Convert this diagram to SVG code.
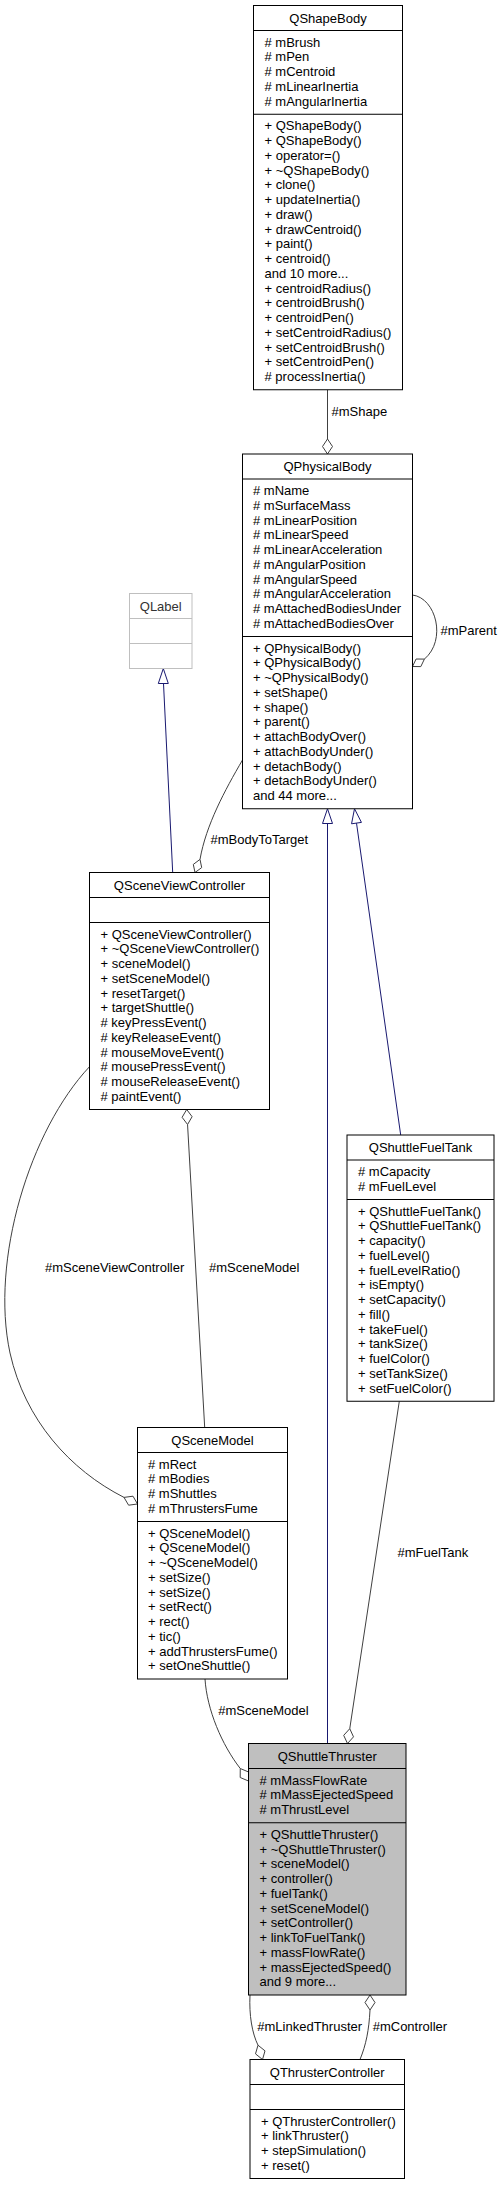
<svg xmlns="http://www.w3.org/2000/svg" width="504" height="2185" viewBox="0 0 504 2185">
<style>
.bx{fill:#fff;stroke:#000;stroke-width:1}
.gx{fill:#bfbfbf;stroke:#000;stroke-width:1}
.lx{fill:#fff;stroke:#bfbfbf;stroke-width:1}
.sp{stroke:#000;stroke-width:1}
.lsp{stroke:#bfbfbf;stroke-width:1}
.t{font-family:"Liberation Sans",Arial,Helvetica,sans-serif;font-size:13px;fill:#000}
.c{text-anchor:middle}
.e{fill:none;stroke:#404040;stroke-width:1}
.i{fill:none;stroke:#191970;stroke-width:1}
.d{fill:#fff;stroke:#404040;stroke-width:1}
.h{fill:#fff;stroke:#191970;stroke-width:1}
</style>
<rect width="504" height="2185" fill="#fff"/>

<g id="connectors">
  <!-- mShape -->
  <line class="e" x1="327.5" y1="389.75" x2="327.5" y2="439"/>
  <polygon class="d" points="327.5,454 322.5,446.5 327.5,439 332.5,446.5"/>
  <text class="t" x="331.5" y="415.5">#mShape</text>
  <!-- mParent self loop -->
  <path class="e" d="M412.5,595 C436,598 447,640 424.4,659.1"/>
  <polygon class="d" points="412.5,666.5 420.8,666.6 424.4,659.1 416.1,659"/>
  <text class="t" x="440.5" y="635">#mParent</text>
  <!-- mBodyToTarget -->
  <path class="e" d="M242.5,760 C225,790 206,825 200,859.4"/>
  <polygon class="d" points="195,872.5 201.7,867.6 200,859.4 193.3,864.4"/>
  <text class="t" x="210.5" y="844">#mBodyToTarget</text>
  <!-- QSceneViewController -> QLabel -->
  <line class="i" x1="172.7" y1="872.5" x2="163.5" y2="683.5"/>
  <polygon class="h" points="163.3,668.5 158.3,683.5 168.3,683.5"/>
  <!-- QShuttleThruster -> QPhysicalBody -->
  <line class="i" x1="327.5" y1="823.5" x2="327.5" y2="1743.5"/>
  <polygon class="h" points="327.5,808.75 322.5,823.5 332.5,823.5"/>
  <!-- QShuttleFuelTank -> QPhysicalBody -->
  <line class="i" x1="356.5" y1="823.1" x2="400.7" y2="1135"/>
  <polygon class="h" points="354.5,808.75 351.55,823.8 361.45,822.4"/>
  <!-- mSceneModel (QSceneViewController) -->
  <line class="e" x1="187.55" y1="1124.5" x2="204.7" y2="1427.5"/>
  <polygon class="d" points="186.7,1109.5 192.1,1116.7 187.55,1124.5 182.1,1117.3"/>
  <text class="t" x="209" y="1272">#mSceneModel</text>
  <!-- mSceneViewController -->
  <path class="e" d="M89.5,1066.7 C30,1130 -10,1260 10,1353 C25,1420 70,1470 124,1497.4"/>
  <polygon class="d" points="137.5,1504 133,1496.2 124,1497.4 128.6,1505.2"/>
  <text class="t" x="45" y="1272">#mSceneViewController</text>
  <!-- mFuelTank -->
  <line class="e" x1="349.75" y1="1728.7" x2="399.3" y2="1401.25"/>
  <polygon class="d" points="347.5,1743.5 353.5,1736.85 349.75,1728.7 343.7,1735.35"/>
  <text class="t" x="397.5" y="1557">#mFuelTank</text>
  <!-- mSceneModel (QShuttleThruster) -->
  <path class="e" d="M205,1679 C207,1710 222,1745 240.25,1768.5"/>
  <polygon class="d" points="248.5,1781 248.6,1772 240.25,1768.5 240.2,1777.5"/>
  <text class="t" x="218.3" y="1715">#mSceneModel</text>
  <!-- mLinkedThruster -->
  <path class="e" d="M250,1995 C249,2015 252,2033 258,2045.2"/>
  <polygon class="d" points="262.5,2059.5 265,2050.85 258,2045.2 255.5,2053.85"/>
  <text class="t" x="257.3" y="2031">#mLinkedThruster</text>
  <!-- mController -->
  <path class="e" d="M370,2010 C369,2030 366,2045 360,2059.5"/>
  <polygon class="d" points="370,1995 375,2002.5 370,2010 365,2002.5"/>
  <text class="t" x="372.7" y="2031">#mController</text>
</g>

<g id="QShapeBody">
  <rect class="bx" x="253.5" y="5.5" width="149" height="384.25"/>
  <line class="sp" x1="253.5" y1="30.5" x2="402.5" y2="30.5"/>
  <line class="sp" x1="253.5" y1="114.25" x2="402.5" y2="114.25"/>
  <text class="t c" x="328" y="22.5">QShapeBody</text>
  <text class="t" x="264.5" y="46.5"><tspan x="264.5"># mBrush</tspan><tspan x="264.5" dy="14.75"># mPen</tspan><tspan x="264.5" dy="14.75"># mCentroid</tspan><tspan x="264.5" dy="14.75"># mLinearInertia</tspan><tspan x="264.5" dy="14.75"># mAngularInertia</tspan></text>
  <text class="t" x="264.5" y="130.25"><tspan x="264.5">+ QShapeBody()</tspan><tspan x="264.5" dy="14.75">+ QShapeBody()</tspan><tspan x="264.5" dy="14.75">+ operator=()</tspan><tspan x="264.5" dy="14.75">+ ~QShapeBody()</tspan><tspan x="264.5" dy="14.75">+ clone()</tspan><tspan x="264.5" dy="14.75">+ updateInertia()</tspan><tspan x="264.5" dy="14.75">+ draw()</tspan><tspan x="264.5" dy="14.75">+ drawCentroid()</tspan><tspan x="264.5" dy="14.75">+ paint()</tspan><tspan x="264.5" dy="14.75">+ centroid()</tspan><tspan x="264.5" dy="14.75">and 10 more...</tspan><tspan x="264.5" dy="14.75">+ centroidRadius()</tspan><tspan x="264.5" dy="14.75">+ centroidBrush()</tspan><tspan x="264.5" dy="14.75">+ centroidPen()</tspan><tspan x="264.5" dy="14.75">+ setCentroidRadius()</tspan><tspan x="264.5" dy="14.75">+ setCentroidBrush()</tspan><tspan x="264.5" dy="14.75">+ setCentroidPen()</tspan><tspan x="264.5" dy="14.75"># processInertia()</tspan></text>
</g>

<g id="QPhysicalBody">
  <rect class="bx" x="242.5" y="454" width="170" height="354.75"/>
  <line class="sp" x1="242.5" y1="479" x2="412.5" y2="479"/>
  <line class="sp" x1="242.5" y1="636.5" x2="412.5" y2="636.5"/>
  <text class="t c" x="327.5" y="471">QPhysicalBody</text>
  <text class="t" x="253" y="495"><tspan x="253"># mName</tspan><tspan x="253" dy="14.75"># mSurfaceMass</tspan><tspan x="253" dy="14.75"># mLinearPosition</tspan><tspan x="253" dy="14.75"># mLinearSpeed</tspan><tspan x="253" dy="14.75"># mLinearAcceleration</tspan><tspan x="253" dy="14.75"># mAngularPosition</tspan><tspan x="253" dy="14.75"># mAngularSpeed</tspan><tspan x="253" dy="14.75"># mAngularAcceleration</tspan><tspan x="253" dy="14.75"># mAttachedBodiesUnder</tspan><tspan x="253" dy="14.75"># mAttachedBodiesOver</tspan></text>
  <text class="t" x="253" y="652.5"><tspan x="253">+ QPhysicalBody()</tspan><tspan x="253" dy="14.75">+ QPhysicalBody()</tspan><tspan x="253" dy="14.75">+ ~QPhysicalBody()</tspan><tspan x="253" dy="14.75">+ setShape()</tspan><tspan x="253" dy="14.75">+ shape()</tspan><tspan x="253" dy="14.75">+ parent()</tspan><tspan x="253" dy="14.75">+ attachBodyOver()</tspan><tspan x="253" dy="14.75">+ attachBodyUnder()</tspan><tspan x="253" dy="14.75">+ detachBody()</tspan><tspan x="253" dy="14.75">+ detachBodyUnder()</tspan><tspan x="253" dy="14.75">and 44 more...</tspan></text>
</g>

<g id="QLabel">
  <rect class="lx" x="129.5" y="593.5" width="62.5" height="75"/>
  <line class="lsp" x1="129.5" y1="618.5" x2="192" y2="618.5"/>
  <line class="lsp" x1="129.5" y1="643.5" x2="192" y2="643.5"/>
  <text class="t c" x="160.75" y="610.5" style="fill:#333">QLabel</text>
</g>

<g id="QSceneViewController">
  <rect class="bx" x="89.5" y="872.5" width="180" height="237"/>
  <line class="sp" x1="89.5" y1="897.5" x2="269.5" y2="897.5"/>
  <line class="sp" x1="89.5" y1="922.5" x2="269.5" y2="922.5"/>
  <text class="t c" x="179.5" y="889.5">QSceneViewController</text>
  <text class="t" x="100.5" y="938.5"><tspan x="100.5">+ QSceneViewController()</tspan><tspan x="100.5" dy="14.75">+ ~QSceneViewController()</tspan><tspan x="100.5" dy="14.75">+ sceneModel()</tspan><tspan x="100.5" dy="14.75">+ setSceneModel()</tspan><tspan x="100.5" dy="14.75">+ resetTarget()</tspan><tspan x="100.5" dy="14.75">+ targetShuttle()</tspan><tspan x="100.5" dy="14.75"># keyPressEvent()</tspan><tspan x="100.5" dy="14.75"># keyReleaseEvent()</tspan><tspan x="100.5" dy="14.75"># mouseMoveEvent()</tspan><tspan x="100.5" dy="14.75"># mousePressEvent()</tspan><tspan x="100.5" dy="14.75"># mouseReleaseEvent()</tspan><tspan x="100.5" dy="14.75"># paintEvent()</tspan></text>
</g>

<g id="QShuttleFuelTank">
  <rect class="bx" x="347" y="1135" width="147" height="266.25"/>
  <line class="sp" x1="347" y1="1160" x2="494" y2="1160"/>
  <line class="sp" x1="347" y1="1199.5" x2="494" y2="1199.5"/>
  <text class="t c" x="420.5" y="1152">QShuttleFuelTank</text>
  <text class="t" x="358" y="1176"><tspan x="358"># mCapacity</tspan><tspan x="358" dy="14.75"># mFuelLevel</tspan></text>
  <text class="t" x="358" y="1215.5"><tspan x="358">+ QShuttleFuelTank()</tspan><tspan x="358" dy="14.75">+ QShuttleFuelTank()</tspan><tspan x="358" dy="14.75">+ capacity()</tspan><tspan x="358" dy="14.75">+ fuelLevel()</tspan><tspan x="358" dy="14.75">+ fuelLevelRatio()</tspan><tspan x="358" dy="14.75">+ isEmpty()</tspan><tspan x="358" dy="14.75">+ setCapacity()</tspan><tspan x="358" dy="14.75">+ fill()</tspan><tspan x="358" dy="14.75">+ takeFuel()</tspan><tspan x="358" dy="14.75">+ tankSize()</tspan><tspan x="358" dy="14.75">+ fuelColor()</tspan><tspan x="358" dy="14.75">+ setTankSize()</tspan><tspan x="358" dy="14.75">+ setFuelColor()</tspan></text>
</g>

<g id="QSceneModel">
  <rect class="bx" x="137.5" y="1427.5" width="150" height="251.5"/>
  <line class="sp" x1="137.5" y1="1452.5" x2="287.5" y2="1452.5"/>
  <line class="sp" x1="137.5" y1="1521.5" x2="287.5" y2="1521.5"/>
  <text class="t c" x="212.5" y="1444.5">QSceneModel</text>
  <text class="t" x="148" y="1468.5"><tspan x="148"># mRect</tspan><tspan x="148" dy="14.75"># mBodies</tspan><tspan x="148" dy="14.75"># mShuttles</tspan><tspan x="148" dy="14.75"># mThrustersFume</tspan></text>
  <text class="t" x="148" y="1537.5"><tspan x="148">+ QSceneModel()</tspan><tspan x="148" dy="14.75">+ QSceneModel()</tspan><tspan x="148" dy="14.75">+ ~QSceneModel()</tspan><tspan x="148" dy="14.75">+ setSize()</tspan><tspan x="148" dy="14.75">+ setSize()</tspan><tspan x="148" dy="14.75">+ setRect()</tspan><tspan x="148" dy="14.75">+ rect()</tspan><tspan x="148" dy="14.75">+ tic()</tspan><tspan x="148" dy="14.75">+ addThrustersFume()</tspan><tspan x="148" dy="14.75">+ setOneShuttle()</tspan></text>
</g>

<g id="QShuttleThruster">
  <rect class="gx" x="248.5" y="1743.5" width="157.5" height="251.5"/>
  <line class="sp" x1="248.5" y1="1768.5" x2="406" y2="1768.5"/>
  <line class="sp" x1="248.5" y1="1822.75" x2="406" y2="1822.75"/>
  <text class="t c" x="327.25" y="1760.5">QShuttleThruster</text>
  <text class="t" x="259.5" y="1784.5"><tspan x="259.5"># mMassFlowRate</tspan><tspan x="259.5" dy="14.75"># mMassEjectedSpeed</tspan><tspan x="259.5" dy="14.75"># mThrustLevel</tspan></text>
  <text class="t" x="259.5" y="1838.75"><tspan x="259.5">+ QShuttleThruster()</tspan><tspan x="259.5" dy="14.75">+ ~QShuttleThruster()</tspan><tspan x="259.5" dy="14.75">+ sceneModel()</tspan><tspan x="259.5" dy="14.75">+ controller()</tspan><tspan x="259.5" dy="14.75">+ fuelTank()</tspan><tspan x="259.5" dy="14.75">+ setSceneModel()</tspan><tspan x="259.5" dy="14.75">+ setController()</tspan><tspan x="259.5" dy="14.75">+ linkToFuelTank()</tspan><tspan x="259.5" dy="14.75">+ massFlowRate()</tspan><tspan x="259.5" dy="14.75">+ massEjectedSpeed()</tspan><tspan x="259.5" dy="14.75">and 9 more...</tspan></text>
</g>

<g id="QThrusterController">
  <rect class="bx" x="250" y="2059.5" width="154.5" height="119"/>
  <line class="sp" x1="250" y1="2084.5" x2="404.5" y2="2084.5"/>
  <line class="sp" x1="250" y1="2109.5" x2="404.5" y2="2109.5"/>
  <text class="t c" x="327.25" y="2076.5">QThrusterController</text>
  <text class="t" x="261" y="2125.5"><tspan x="261">+ QThrusterController()</tspan><tspan x="261" dy="14.75">+ linkThruster()</tspan><tspan x="261" dy="14.75">+ stepSimulation()</tspan><tspan x="261" dy="14.75">+ reset()</tspan></text>
</g>
</svg>
